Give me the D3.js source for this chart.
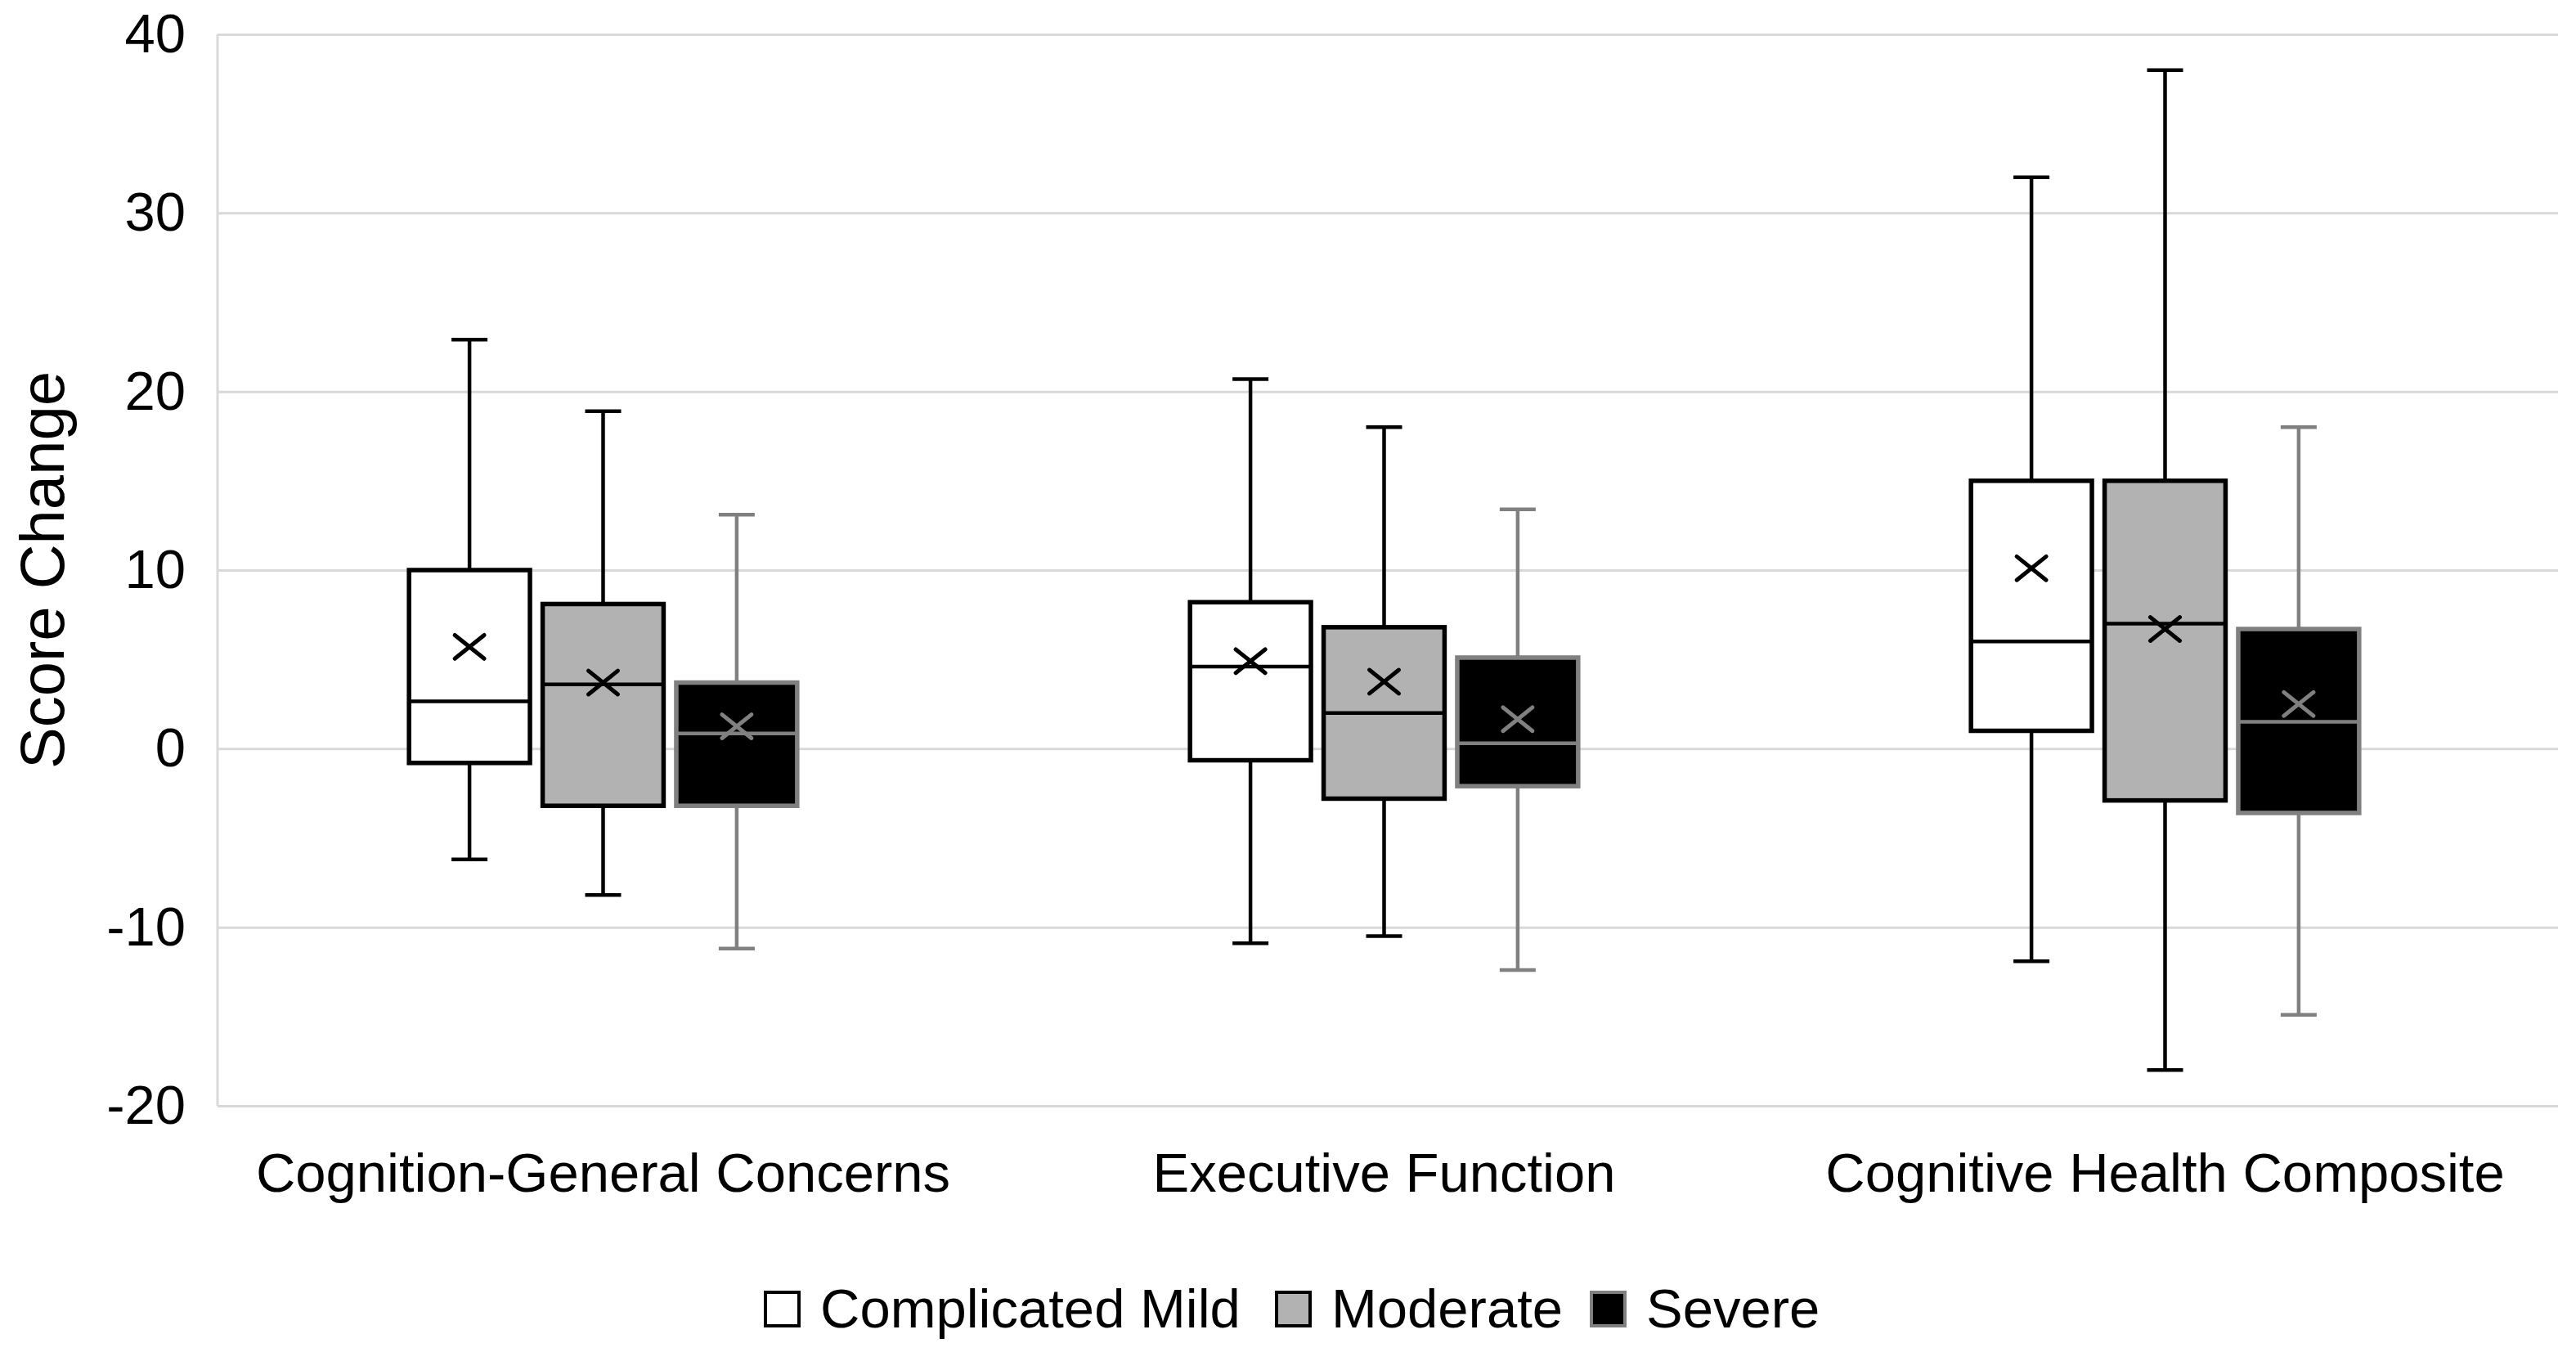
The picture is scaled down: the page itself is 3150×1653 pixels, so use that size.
<!DOCTYPE html>
<html>
<head>
    <meta charset="utf-8">
    <style type="text/css">
        body { margin: 0; background: #fff; }
        #mySvg { width: 3150px; height: 1653px; display: block; }
        text { font-family: "Liberation Sans", Arial, sans-serif; fill: #000; }
        .grid line { stroke: #d9d9d9; stroke-width: 3px; }
    </style>
    <script src="https://d3js.org/d3.v7.min.js"></script>
</head>
<body>
    <svg id="mySvg" width="3150" height="1653"></svg>
</body>
<script type="text/javascript">
// chart values
const categories = ['Cognition-General Concerns', 'Executive Function', 'Cognitive Health Composite'];
const series = ['Complicated Mild', 'Moderate', 'Severe'];
const yTicks = [-20, -10, 0, 10, 20, 30, 40];

// one row per series, one column per category
const whiskerLow  = [[-6.2, -10.9, -11.9], [-8.2, -10.5, -18.0], [-11.2, -12.4, -14.9]];
const quartile1   = [[-0.8, -0.65, 1.0],   [-3.2, -2.8, -2.9],   [-3.2, -2.1, -3.6]];
const median      = [[2.65, 4.6, 6.0],     [3.6, 2.0, 7.0],      [0.85, 0.3, 1.5]];
const quartile3   = [[10.0, 8.2, 15.0],    [8.1, 6.8, 15.0],     [3.7, 5.1, 6.7]];
const whiskerHigh = [[22.9, 20.7, 32.0],   [18.9, 18.0, 38.0],   [13.1, 13.4, 18.0]];
const mean        = [[5.7, 4.9, 10.1],     [3.7, 3.75, 6.7],     [1.25, 1.65, 2.5]];

const fills   = ['#ffffff', '#b2b2b2', '#000000'];
const strokes = ['#000000', '#000000', '#808080'];

const svg = d3.select('#mySvg');
const plotLeft = 266, plotRight = 3128, plotTop = 42, plotBottom = 1352;

const y = d3.scaleLinear().domain([-20, 40]).range([plotBottom, plotTop]);
const x0 = d3.scaleBand().domain(categories).range([260, 3125]);
const x1 = d3.scaleBand().domain(series).range([0, x0.bandwidth()])
    .paddingInner(0.095).paddingOuter(1.47);

// gridlines + y labels (plain hyphen like the original)
const yAxis = svg.append('g')
    .attr('class', 'grid')
    .attr('transform', 'translate(' + plotLeft + ',0)')
    .call(d3.axisLeft(y).tickValues(yTicks).tickFormat(d => String(d))
        .tickSize(-(plotRight - plotLeft)).tickPadding(39));
yAxis.select('.domain').remove();
yAxis.selectAll('text').style('font-size', '67px');

// left border of plot area
svg.append('line')
    .attr('x1', plotLeft).attr('x2', plotLeft)
    .attr('y1', plotTop).attr('y2', plotBottom)
    .style('stroke', '#d9d9d9').style('stroke-width', 3);

// category labels
const xAxis = svg.append('g')
    .attr('transform', 'translate(0,' + plotBottom + ')')
    .call(d3.axisBottom(x0).tickSize(0).tickPadding(57));
xAxis.select('.domain').remove();
xAxis.selectAll('text').style('font-size', '67px');

// build one record per box
const boxes = [];
series.forEach((s, si) => {
    categories.forEach((c, ci) => {
        boxes.push({
            s: s, si: si, c: c,
            lo: whiskerLow[si][ci], q1: quartile1[si][ci], med: median[si][ci],
            q3: quartile3[si][ci], hi: whiskerHigh[si][ci], mean: mean[si][ci]
        });
    });
});

const bw = x1.bandwidth();
const cap = 22;
const groups = svg.append('g')
    .selectAll('g')
    .data(boxes)
    .enter()
    .append('g')
    .attr('transform', d => 'translate(' + (x0(d.c) + x1(d.s)) + ',0)')
    .style('stroke', d => strokes[d.si])
    .style('stroke-width', 4.5);

// whiskers
groups.append('line')
    .attr('x1', bw / 2).attr('x2', bw / 2)
    .attr('y1', d => y(d.hi)).attr('y2', d => y(d.q3));
groups.append('line')
    .attr('x1', bw / 2).attr('x2', bw / 2)
    .attr('y1', d => y(d.q1)).attr('y2', d => y(d.lo));
groups.append('line')
    .attr('x1', bw / 2 - cap).attr('x2', bw / 2 + cap)
    .attr('y1', d => y(d.hi)).attr('y2', d => y(d.hi));
groups.append('line')
    .attr('x1', bw / 2 - cap).attr('x2', bw / 2 + cap)
    .attr('y1', d => y(d.lo)).attr('y2', d => y(d.lo));

// box
groups.append('rect')
    .attr('x', 0).attr('width', bw)
    .attr('y', d => y(d.q3))
    .attr('height', d => y(d.q1) - y(d.q3))
    .style('fill', d => fills[d.si])
    .style('stroke-width', 5.5);

// median
groups.append('line')
    .attr('x1', 0).attr('x2', bw)
    .attr('y1', d => y(d.med)).attr('y2', d => y(d.med));

// mean marker (x)
const m = 18;
groups.append('path')
    .attr('d', d => {
        const cx = bw / 2, cy = y(d.mean);
        return 'M' + (cx - m) + ',' + (cy - m * 0.8) + 'L' + (cx + m) + ',' + (cy + m * 0.8) +
               'M' + (cx - m) + ',' + (cy + m * 0.8) + 'L' + (cx + m) + ',' + (cy - m * 0.8);
    })
    .style('fill', 'none')
    .style('stroke-width', 5)
    .style('stroke-linecap', 'round');

// y axis title
svg.append('text')
    .attr('transform', 'translate(78,' + ((plotTop + plotBottom) / 2) + ') rotate(-90)')
    .attr('text-anchor', 'middle')
    .style('font-size', '76px')
    .text('Score Change');

// legend
const legendX = [934, 1559, 1944];
const legend = svg.append('g')
    .selectAll('g')
    .data(series)
    .enter()
    .append('g')
    .attr('transform', (d, i) => 'translate(' + legendX[i] + ',1578)');
legend.append('rect')
    .attr('x', 2).attr('y', 2)
    .attr('width', 41).attr('height', 41)
    .style('fill', (d, i) => fills[i])
    .style('stroke', (d, i) => strokes[i])
    .style('stroke-width', 4);
legend.append('text')
    .attr('x', 69)
    .attr('y', 45)
    .style('font-size', '67px')
    .text(d => d);
</script>
</html>
